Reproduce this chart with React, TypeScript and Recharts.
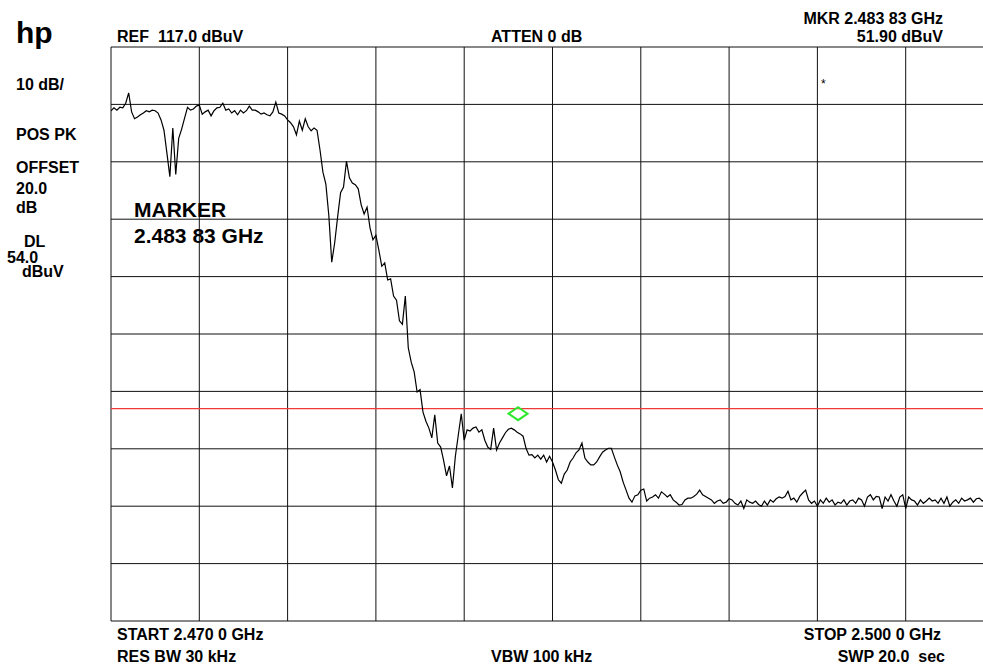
import React from 'react';
import { ComposedChart, Line, XAxis, YAxis, CartesianGrid, ReferenceLine, Scatter } from 'recharts';

// Sweep: 2.470 GHz .. 2.500 GHz, one trace point every 0.1 MHz
const START_GHZ = 2.47;
const STEP_GHZ = 0.0001;

const freqTicks = [2.47, 2.473, 2.476, 2.479, 2.482, 2.485, 2.488, 2.491, 2.494, 2.497, 2.5];
const levelTicks = [17, 27, 37, 47, 57, 67, 77, 87, 97, 107, 117];

const displayLineLevel = 54.0;
const markerFreq = 2.48383;
const markerLevel = 51.9;

// trace levels in dBuV
const passbandLevels = [
  105.9, 106.4, 106.0, 106.5, 106.4, 107.2, 109.0, 105.7, 104.5, 104.8,
  105.2, 105.5, 105.9, 105.7, 106.0, 105.9, 105.5, 104.3, 102.5, 98.5,
  94.4, 102.9, 94.8, 101.1, 102.7, 104.6, 106.5, 106.0, 106.2, 106.7,
  106.9, 105.3, 105.7, 106.0, 105.0, 105.9, 106.4, 106.5, 107.2, 106.0,
  106.2, 105.5, 105.9, 105.2, 106.0, 105.5, 105.9, 106.7, 106.0, 106.0,
  105.7, 105.3, 105.5, 105.2, 105.0, 105.7, 107.4, 105.5, 105.3, 105.0,
  104.3, 103.8, 103.1, 101.7, 104.1, 102.5, 104.5, 103.1, 102.4, 102.9,
  102.5,
];

const skirtLevels = [
  99.1, 95.2, 93.1, 87.7, 79.5, 82.9, 87.4, 91.6, 92.6, 97.1,
  94.2, 93.3, 93.0, 92.3, 89.5, 87.9, 89.1, 85.5, 83.4, 84.2,
  81.6, 78.8, 79.4, 76.4, 76.6, 73.6, 72.9, 69.3, 68.7, 73.6,
  64.6, 62.1, 60.4, 56.9, 57.3, 53.4, 51.8, 50.6, 48.9, 52.9,
  48.0, 47.3, 45.0, 42.3, 44.0, 40.2, 45.7, 49.4, 53.1, 48.5,
  50.3, 50.1, 50.6, 50.8, 49.9, 50.3, 48.5, 47.3, 46.9, 50.6,
  46.8, 48.0, 48.9, 49.8, 50.4, 50.6, 50.3, 49.9, 49.6, 49.2,
  47.1, 45.9, 46.0, 45.4, 45.9, 45.2, 45.9, 44.7, 45.7, 44.7,
  43.3, 41.6, 41.0, 42.6, 43.3, 44.7, 45.4, 46.3, 46.8, 48.0,
  45.4, 44.7, 44.2, 44.2, 44.7, 45.6, 46.4, 46.8, 47.1, 47.1,
  45.6, 44.2, 43.0, 41.2, 39.8, 38.4, 37.7, 38.8, 39.0, 39.8,
];

const floorLevels = [
  40.0, 37.9, 38.4, 38.6, 39.0, 38.4, 39.5, 39.1, 38.6, 39.0,
  38.1, 37.7, 37.2, 37.3, 38.1, 38.4, 38.4, 38.7, 39.1, 39.8,
  39.0, 38.7, 38.4, 38.1, 37.5, 37.9, 38.1, 37.5, 37.7, 38.3,
  38.1, 37.5, 37.2, 37.9, 36.6, 38.1, 37.7, 37.5, 37.9, 37.3,
  37.0, 37.9, 37.2, 38.1, 37.7, 38.3, 38.6, 38.4, 38.7, 39.6,
  38.1, 38.4, 37.7, 38.7, 39.3, 39.8, 38.1, 37.5, 37.9, 37.0,
  38.1, 37.5, 38.4, 37.7, 38.1, 37.2, 37.7, 37.5, 38.1, 37.2,
  37.9, 38.1, 37.5, 38.4, 38.1, 37.0, 38.6, 39.0, 38.1, 38.7,
  38.6, 36.6, 38.6, 37.9, 39.0, 37.9, 37.0, 38.6, 39.0, 36.6,
  38.6, 38.1, 37.9, 37.2, 38.1, 37.5, 37.9, 38.4, 37.9, 38.1,
  37.5, 38.4, 37.5, 38.6, 37.0, 37.7, 38.1, 37.5, 38.4, 37.9,
  38.1, 38.4, 37.7, 38.3, 38.4, 37.9, 38.1, 37.7, 38.3, 38.1,
];

const sideLabels = [
  { text: '10 dB/', x: 16, y: 90 },
  { text: 'POS PK', x: 16, y: 140 },
  { text: 'OFFSET', x: 16, y: 173 },
  { text: '20.0', x: 16, y: 194 },
  { text: 'dB', x: 16, y: 213 },
  { text: 'DL', x: 24, y: 247 },
  { text: '54.0', x: 7, y: 263 },
  { text: 'dBuV', x: 22, y: 277 },
];

const headerLabels = [
  { text: 'REF\u00a0\u00a0117.0 dBuV', x: 117, y: 42, anchor: 'start' },
  { text: 'ATTEN 0 dB', x: 491, y: 42, anchor: 'start' },
  { text: 'MKR 2.483 83 GHz', x: 943, y: 24, anchor: 'end' },
  { text: '51.90 dBuV', x: 943, y: 42, anchor: 'end' },
];

const footerLabels = [
  { text: 'START 2.470 0 GHz', x: 117, y: 640, anchor: 'start' },
  { text: 'STOP 2.500 0 GHz', x: 941, y: 640, anchor: 'end' },
  { text: 'RES BW 30 kHz', x: 117, y: 662, anchor: 'start' },
  { text: 'VBW 100 kHz', x: 491, y: 662, anchor: 'start' },
  { text: 'SWP 20.0\u00a0\u00a0sec', x: 945, y: 662, anchor: 'end' },
];

const markerTitle = 'MARKER';
const markerText = '2.483 83 GHz';

const traceData = [...passbandLevels, ...skirtLevels, ...floorLevels].map((level, i) => ({
  freq: Number((START_GHZ + i * STEP_GHZ).toFixed(4)),
  level,
}));

const markerData = [{ freq: markerFreq, marker: markerLevel }];

const DiamondShape = (props: any) => {
  const { cx, cy } = props;
  if (cx == null || cy == null) return null;
  const c = cy - 7;
  const hw = 9.5;
  const hh = 6.5;
  const pts = `${cx - hw},${c} ${cx},${c - hh} ${cx + hw},${c} ${cx},${c + hh}`;
  return <polygon points={pts} fill="none" stroke="#2ee82e" strokeWidth={2} />;
};

const FONT = '"Liberation Sans", Arial, Helvetica, sans-serif';

export default function App() {
  return (
    <div
      style={{
        position: 'fixed',
        left: 0,
        top: 0,
        width: 983,
        height: 669,
        overflow: 'hidden',
        background: '#ffffff',
      }}
    >
      <div style={{ position: 'absolute', left: 0, top: 0 }}>
        <ComposedChart
          width={1000}
          height={669}
          data={traceData}
          margin={{ top: 47, right: 6, bottom: 48, left: 111 }}
        >
          <CartesianGrid stroke="#111" strokeWidth={1} />
          <XAxis
            type="number"
            dataKey="freq"
            domain={[2.47, 2.5]}
            ticks={freqTicks}
            hide
            allowDataOverflow
          />
          <YAxis type="number" domain={[17, 117]} ticks={levelTicks} hide allowDataOverflow />
          <ReferenceLine y={displayLineLevel} stroke="#f03a3a" strokeWidth={1.3} />
          <Line
            type="linear"
            dataKey="level"
            stroke="#000"
            strokeWidth={1.2}
            dot={false}
            isAnimationActive={false}
          />
          <Scatter data={markerData} dataKey="marker" shape={DiamondShape} isAnimationActive={false} />
        </ComposedChart>
      </div>
      <svg
        width={983}
        height={669}
        style={{ position: 'absolute', left: 0, top: 0, pointerEvents: 'none' }}
      >
        <g fontFamily={FONT} fontWeight="bold" fill="#000">
          <text x={16} y={43} fontSize={30}>hp</text>
          {sideLabels.map((l) => (
            <text key={l.text + l.y} x={l.x} y={l.y} fontSize={16}>{l.text}</text>
          ))}
          {headerLabels.map((l) => (
            <text key={l.text} x={l.x} y={l.y} fontSize={16} textAnchor={l.anchor as any}>{l.text}</text>
          ))}
          {footerLabels.map((l) => (
            <text key={l.text} x={l.x} y={l.y} fontSize={16} textAnchor={l.anchor as any}>{l.text}</text>
          ))}
          <text x={134} y={217} fontSize={21}>{markerTitle}</text>
          <text x={134} y={243} fontSize={21}>{markerText}</text>
          <text x={821} y={88} fontSize={12} fontWeight="normal">*</text>
        </g>
      </svg>
    </div>
  );
}
